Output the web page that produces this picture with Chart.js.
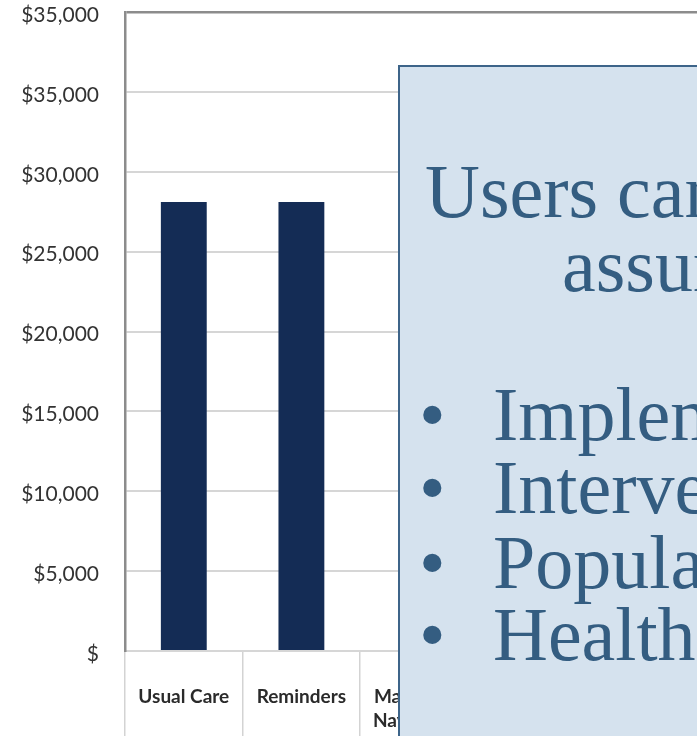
<!DOCTYPE html>
<html>
<head>
<meta charset="utf-8">
<script src="https://cdn.jsdelivr.net/npm/chart.js@4"></script>
<style>
  html, body { margin: 0; padding: 0; background: #ffffff; overflow: hidden; width: 697px; height: 736px; }
  #wrap { position: absolute; left: 0; top: 0; width: 713px; height: 736px; }
  #note { position: absolute; left: 0; top: 0; width: 697px; height: 736px; pointer-events: none; }
</style>
</head>
<body>
<div id="wrap"><canvas id="chart" width="713" height="736"></canvas></div>
<svg id="note" width="697" height="736" xmlns="http://www.w3.org/2000/svg">
  <rect x="399" y="66" width="400" height="720" fill="#d5e2ee" stroke="#3d6489" stroke-width="2"/>
  <g fill="#345d81" font-family="'Liberation Serif', serif" font-size="76">
    <text x="425" y="217">Users can change key</text>
    <text x="562" y="291">assumptions about:</text>
    <text x="419" y="440">•</text><text x="493" y="440">Implementation costs</text>
    <text x="419" y="513">•</text><text x="493" y="513">Intervention effects</text>
    <text x="419" y="588">•</text><text x="493" y="588">Population size</text>
    <text x="419" y="660">•</text><text x="493" y="660">Health care costs</text>
  </g>
</svg>
<script>
// Screening strategies and their cost per strategy
const categories = ['Usual Care', 'Reminders', ['Mailed FIT', 'Navigation'], '', ''];
const costs = [28100, 28100, null, null, null];
const yTickLabels = ['$', '$5,000', '$10,000', '$15,000', '$20,000', '$25,000', '$30,000', '$35,000', '$35,000'];

new Chart(document.getElementById('chart'), {
  type: 'bar',
  data: {
    labels: categories,
    datasets: [{
      data: costs,
      backgroundColor: '#142c55',
      borderWidth: 0,
      barPercentage: 0.39,
      categoryPercentage: 1
    }]
  },
  options: {
    responsive: false,
    animation: false,
    layout: { padding: { top: 12, left: 0, right: 0, bottom: 0 } },
    plugins: { legend: { display: false }, tooltip: { enabled: false } },
    scales: {
      x: {
        offset: true,
        afterFit: s => { s.height = 85; s.paddingLeft = 0; s.paddingRight = 0; },
        border: { display: true, color: '#d6d6d6', width: 2 },
        grid: {
          display: true,
          drawOnChartArea: false,
          drawTicks: true,
          tickLength: 90,
          color: '#d3d3d3',
          lineWidth: 1.5
        },
        ticks: {
          autoSkip: false,
          maxRotation: 0,
          padding: -56,
          color: '#2a2a2a',
          font: { family: 'Lato', size: 19, weight: 'bold', lineHeight: 1.25 }
        }
      },
      y: {
        min: 0,
        max: 40000,
        afterFit: s => { s.width = 125; s.paddingTop = 0; s.paddingBottom = 0; },
        border: { display: true, color: '#8c8c8c', width: 2.5 },
        grid: {
          drawTicks: false,
          color: c => (c.tick && c.tick.value === 40000) ? '#8c8c8c' : '#d6d6d6',
          lineWidth: c => (c.tick && c.tick.value === 40000) ? 2.5 : 2
        },
        ticks: {
          stepSize: 5000,
          padding: 26,
          labelOffset: 3,
          color: '#333333',
          font: { family: 'Lato', size: 21 },
          callback: (v, i) => yTickLabels[i]
        }
      }
    }
  }
});
</script>
</body>
</html>
